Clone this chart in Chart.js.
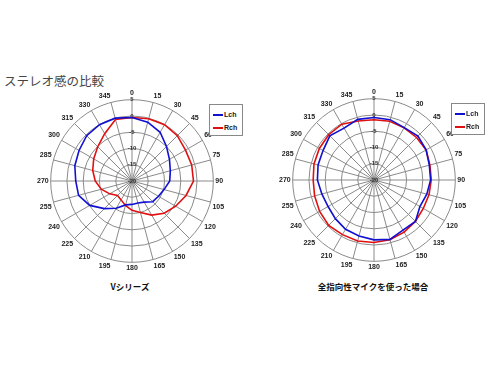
<!DOCTYPE html>
<html>
<head>
<meta charset="utf-8">
<script src="https://cdn.jsdelivr.net/npm/chart.js@4"></script>
<style>
  body { margin: 0; width: 490px; height: 368px; background: #fff; position: relative; overflow: hidden; font-family: "Liberation Sans", Arial, sans-serif; }
  #title { position: absolute; left: 4px; top: 71px; font: 12.5px "Noto Sans CJK JP"; color: #444; white-space: nowrap; }
  .sub { position: absolute; top: 280px; width: 200px; text-align: center; font: bold 8.5px "Noto Sans CJK JP"; color: #111; }
  canvas { position: absolute; }
  .legend { position: absolute; width: 32px; height: 30px; border: 1px solid #888; background: #fff; font: bold 7px "Liberation Sans", Arial, sans-serif; color: #222; }
  .legend div { position: absolute; left: 3px; height: 9px; line-height: 9px; white-space: nowrap; }
  .legend span { display: inline-block; width: 10px; height: 2px; vertical-align: middle; margin-right: 1px; }
</style>
</head>
<body>
<div id="title">ステレオ感の比較</div>

<canvas id="chartV" width="190" height="190" style="left:36px; top:87px;"></canvas>
<canvas id="chartO" width="190" height="190" style="left:278px; top:86px;"></canvas>

<div class="legend" style="left:209px; top:104px;">
  <div style="top:5px;"><span style="background:#1010d0"></span>Lch</div>
  <div style="top:18px;"><span style="background:#e01010"></span>Rch</div>
</div>
<div class="legend" style="left:451px; top:103px;">
  <div style="top:5px;"><span style="background:#1010d0"></span>Lch</div>
  <div style="top:18px;"><span style="background:#e01010"></span>Rch</div>
</div>

<div class="sub" style="left:30px;">Vシリーズ</div>
<div class="sub" style="left:273px;">全指向性マイクを使った場合</div>

<script>
// 角度ラベル (0〜345度、15度刻み)
const angleLabels = ["0", "15", "30", "45", "60", "75", "90", "105", "120", "135", "150", "165",
  "180", "195", "210", "225", "240", "255", "270", "285", "300", "315", "330", "345"];

// 目盛り (dB)
const rMin = -20;
const rMax = 5;
const rStep = 5;

// Vシリーズ
const vLch = [-0.5, -1.3, -2.7, -5, -6.7, -7.8, -8.4, -9.8, -10.6, -11, -12.5, -13,
  -12.8, -12.4, -10.3, -8, -5, -3, -2.7, -1.8, -1.2, -0.3, 0, 0];
const vRch = [-0.5, -0.2, 0, -0.3, -1, -1, -1.1, -2.8, -4.5, -6, -7.9, -10,
  -11, -12.2, -13.3, -13.7, -12.1, -10.2, -8.7, -7.5, -6.4, -5.1, -3.2, -0.4];

// 全指向性マイク
const oLch = [-0.8, -0.8, -1.4, -0.9, -1.5, -2.4, -2.6, -3.2, -3.7, -2, -2.2, -1.1,
  -1.6, -2.2, -2.5, -3.2, -3.7, -3.4, -2.6, -2.2, -1.9, -0.8, -1.6, -0.7];
const oRch = [-1.5, -1.3, -1.5, -1.5, -1.5, -2.2, -2.4, -2.5, -2.5, -2, -1.5, -1,
  -0.8, -0.6, -0.6, -0.3, -0.7, -1.1, -1.3, -0.9, -0.6, -0.3, -0.2, -1.2];

const blue = "#1010d0";
const red = "#e01010";

function makeChart(id, lch, rch) {
  const ctx = document.getElementById(id).getContext("2d");
  return new Chart(ctx, {
    type: "radar",
    data: {
      labels: angleLabels,
      datasets: [
        { label: "Lch", data: lch, borderColor: blue, borderWidth: 1.6, fill: false, pointRadius: 0, tension: 0 },
        { label: "Rch", data: rch, borderColor: red, borderWidth: 1.6, fill: false, pointRadius: 0, tension: 0 },
      ],
    },
    options: {
      responsive: false,
      animation: false,
      plugins: { legend: { display: false }, tooltip: { enabled: false } },
      layout: { padding: 0 },
      scales: {
        r: {
          min: rMin,
          max: rMax,
          ticks: {
            stepSize: rStep,
            showLabelBackdrop: false,
            backdropPadding: 0,
            color: "#333",
            font: { size: 6, weight: "bold", family: "Liberation Sans" },
          },
          grid: { circular: true, color: "#8a8a8a", lineWidth: 1 },
          angleLines: { color: "#8a8a8a", lineWidth: 1 },
          pointLabels: {
            color: "#222",
            padding: -1,
            font: { size: 7, weight: "bold", family: "Liberation Sans" },
          },
        },
      },
    },
  });
}

makeChart("chartV", vLch, vRch);
makeChart("chartO", oLch, oRch);
</script>
</body>
</html>
